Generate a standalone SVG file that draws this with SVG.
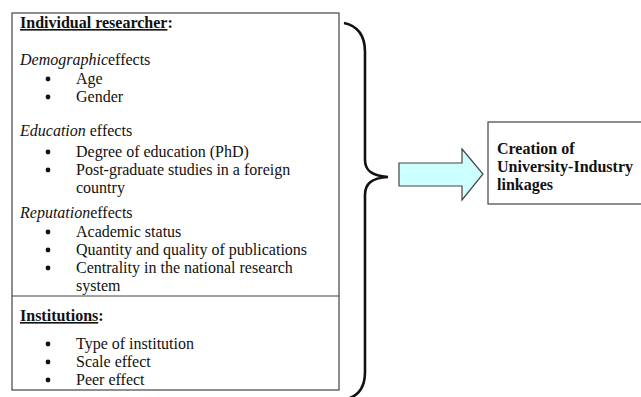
<svg xmlns="http://www.w3.org/2000/svg" width="641" height="397" viewBox="0 0 641 397">
<style>
.t{font-family:"Liberation Serif","Times New Roman",serif;font-size:16px;fill:#111}
.b{font-weight:bold}
.i{font-style:italic}
.u{text-decoration:underline}
.box{fill:#fff;stroke:#444;stroke-width:1.2}
.dot{fill:#111}
</style>
<rect width="641" height="397" fill="#fff"/>
<g id="factors">
<rect class="box" x="12" y="13" width="327" height="377"/>
<line x1="12" y1="296" x2="339" y2="296" stroke="#444" stroke-width="1.2"/>
<text class="t b" x="20" y="28"><tspan class="u">Individual researcher</tspan>:</text>
<text class="t" x="20" y="65"><tspan class="i">Demographic</tspan>effects</text>
<circle class="dot" cx="48" cy="79" r="2.4"/><text class="t" x="76" y="84">Age</text>
<circle class="dot" cx="48" cy="97" r="2.4"/><text class="t" x="76" y="102">Gender</text>
<text class="t" x="20" y="136"><tspan class="i">Education</tspan> effects</text>
<circle class="dot" cx="48" cy="152" r="2.4"/><text class="t" x="76" y="157">Degree of education (PhD)</text>
<circle class="dot" cx="48" cy="170" r="2.4"/><text class="t" x="76" y="175">Post-graduate studies in a foreign</text>
<text class="t" x="76" y="193">country</text>
<text class="t" x="20" y="218"><tspan class="i">Reputation</tspan>effects</text>
<circle class="dot" cx="48" cy="232" r="2.4"/><text class="t" x="76" y="237">Academic status</text>
<circle class="dot" cx="48" cy="250" r="2.4"/><text class="t" x="76" y="255">Quantity and quality of publications</text>
<circle class="dot" cx="48" cy="268" r="2.4"/><text class="t" x="76" y="273">Centrality in the national research</text>
<text class="t" x="76" y="291">system</text>
<text class="t b" x="20" y="321"><tspan class="u">Institutions</tspan>:</text>
<circle class="dot" cx="48" cy="344" r="2.4"/><text class="t" x="76" y="349">Type of institution</text>
<circle class="dot" cx="48" cy="362" r="2.4"/><text class="t" x="76" y="367">Scale effect</text>
<circle class="dot" cx="48" cy="380" r="2.4"/><text class="t" x="76" y="385">Peer effect</text>
</g>
<g id="connectors">
<path d="M344,23 C358,26 365,35 365,52 L365,160 C365,170 371,176 388,177 C371,178 365,184 365,195 L365,372 C365,386 360,394 350,398" fill="none" stroke="#111" stroke-width="2.6"/>
<polygon points="399,163 462,163 462,149 483,174 462,200 462,186 399,186" fill="#ccffff" stroke="#444" stroke-width="1.2"/>
</g>
<g id="outcome">
<rect class="box" x="488" y="122" width="160" height="82"/>
<text class="t b" x="497" y="154">Creation of</text>
<text class="t b" x="497" y="172">University-Industry</text>
<text class="t b" x="497" y="190">linkages</text>
</g>
</svg>
